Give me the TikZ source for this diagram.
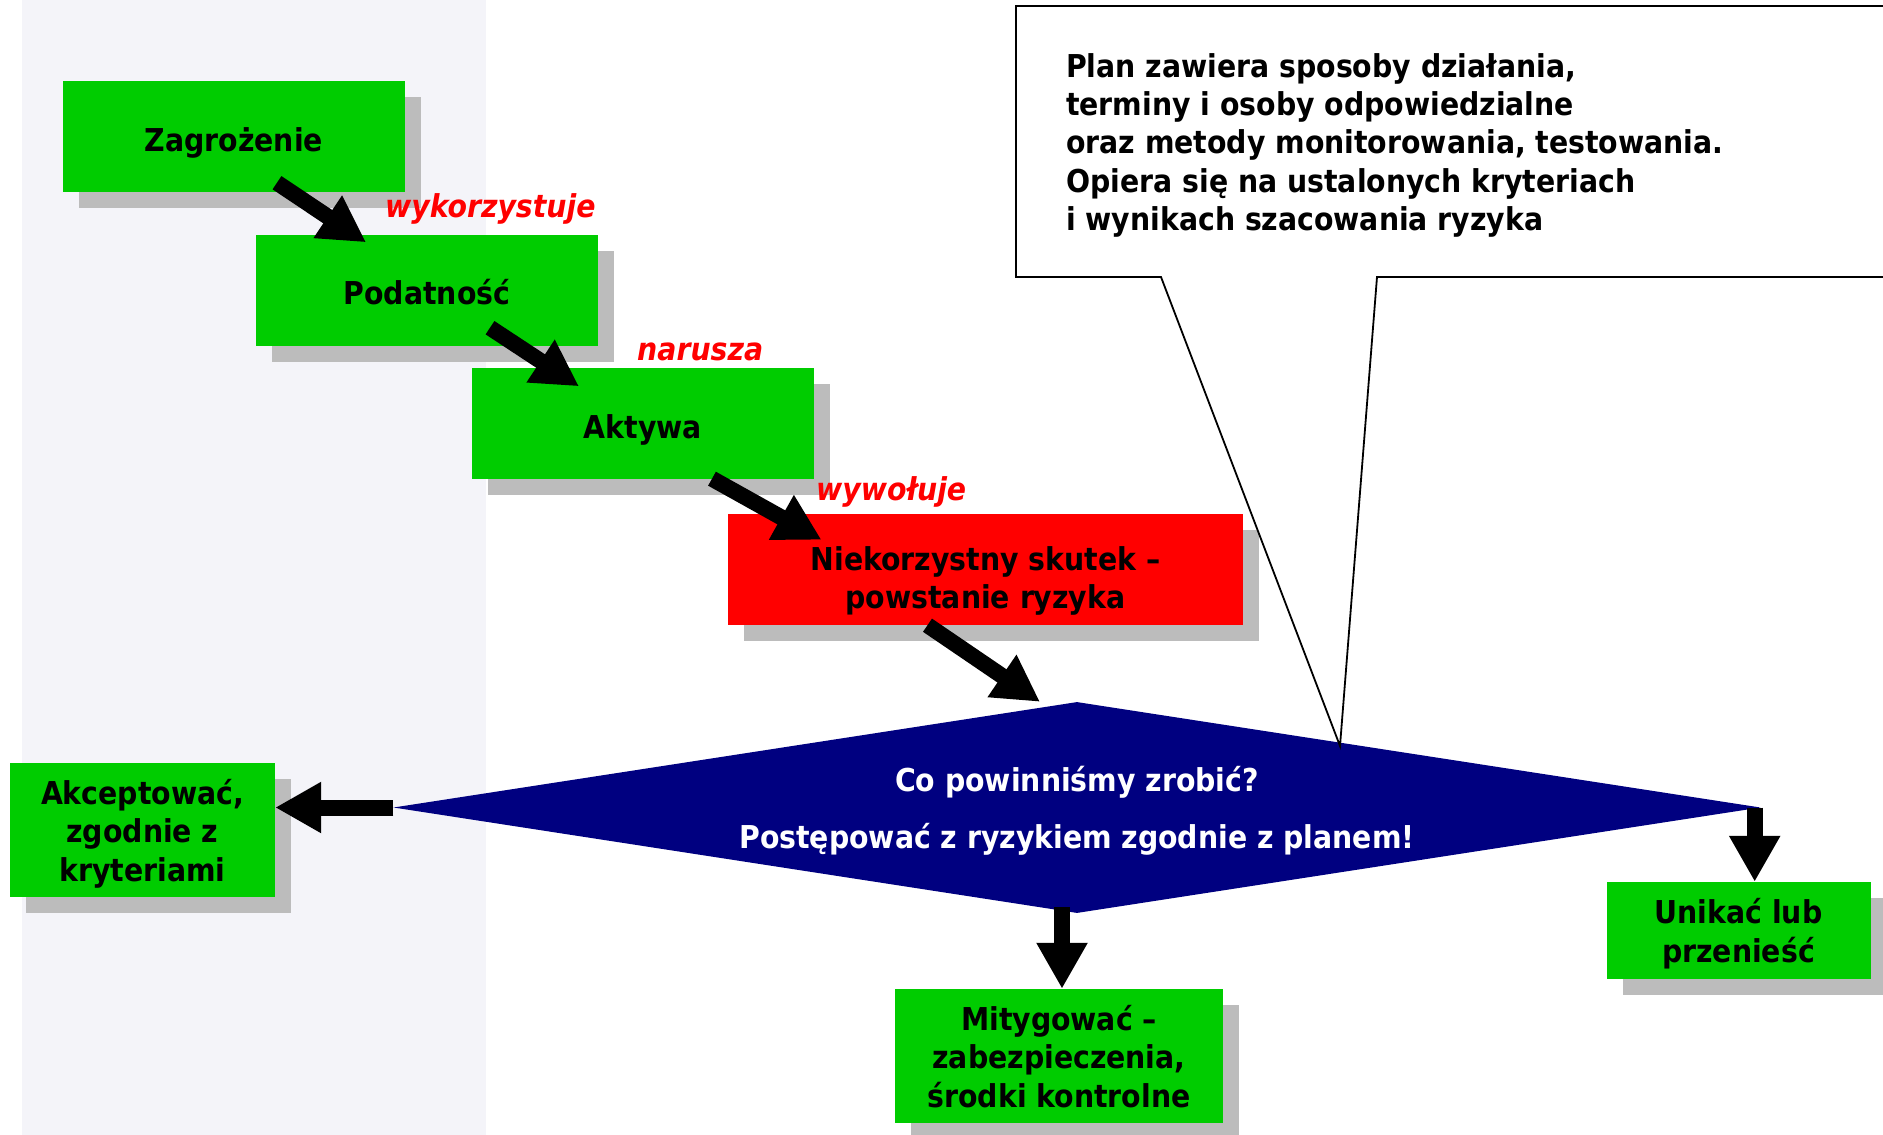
\documentclass[tikz,border=0pt]{standalone}
\usepackage{fontspec}
\setmainfont{DejaVu Sans Condensed}[
    BoldFont={DejaVu Sans Condensed Bold},
    BoldItalicFont={DejaVu Sans Condensed Bold Oblique}]
\usetikzlibrary{shapes.geometric,shadows,arrows.meta,positioning}
\definecolor{boxgreen}{RGB}{0,204,0}
\definecolor{boxred}{RGB}{255,0,0}
\definecolor{navy}{RGB}{0,0,128}
\definecolor{shade}{RGB}{188,188,188}
\definecolor{paper}{RGB}{244,244,249}
\newcommand{\nodefont}{\fontsize{31.5}{38.4}\selectfont\bfseries}
\tikzset{box/.style={rectangle, fill=boxgreen, inner sep=0pt,
        minimum width=342pt, minimum height=111pt,
        align=center, text depth=0pt, font=\nodefont,
        general shadow={fill=shade, shadow xshift=16pt, shadow yshift=-16pt}},
    lbl/.style={text=boxred, font=\nodefont\itshape, inner sep=0pt, anchor=base west},
    fat/.style={line width=16pt, -{Triangle[length=46pt,width=48pt]}},
    balloon/.style={draw, line width=1.8pt, fill=white},
    }

\begin{document}
\begin{tikzpicture}[x=1pt, y=-1pt]
\fill[white] (0,0) rectangle (1883,1135);
\useasboundingbox (0,0) rectangle (1883,1135);
\fill[paper] (22,0) rectangle (486,1135);
% chain
\node[box, text height=30pt] (zag) at (234,136) {Zagrożenie};
\node[box, text height=28pt] (pod) at (427,290) {Podatność};
\node[box, text height=31pt] (akt) at (643,423) {Aktywa};
\node[box, fill=boxred, minimum width=515pt, text height=78pt] (skutek) at (985.5,569.5)
    {Niekorzystny skutek –\\powstanie ryzyka};
\node[lbl] (wyk) at (385,217) {wykorzystuje};
\node[lbl] (nar) at (637,360) {narusza};
\node[lbl] (wyw) at (816,500) {wywołuje};
% decision
\node[diamond, fill=navy, aspect=6.5, inner sep=0pt, minimum width=1367pt,
    minimum height=211pt, text=white, align=center, text depth=0pt, font=\nodefont]
    (dia) at (1077,807.5) {Co powinniśmy zrobić?\\[19pt]Postępować z ryzykiem zgodnie z planem!};
\node[box, minimum width=265pt, minimum height=134pt] (akc) at (142.5,830)
    {Akceptować,\\zgodnie z\\kryteriami};
\node[box, minimum width=328pt, minimum height=134pt] (mit) at (1059,1056)
    {Mitygować –\\zabezpieczenia,\\środki kontrolne};
\node[box, minimum width=264pt, minimum height=97pt] (uni) at (1738.5,930.5)
    {Unikać lub\\przenieść};
% arrows
\draw[fat] ([xshift=43pt,yshift=9pt]zag.south) -- ([xshift=-61pt,yshift=-8pt]pod.north);
\draw[fat] ([xshift=63pt,yshift=18pt]pod.south) -- ([xshift=-64pt,yshift=-19pt]akt.north);
\draw[fat] ([xshift=69pt]akt.south) -- ([xshift=-164pt,yshift=-26pt]skutek.north);
\draw[fat] ([xshift=-58pt]skutek.south) -- ([xshift=-37pt]dia.north);
\draw[fat] (dia.west) -- (dia.west -| akc.east);
\draw[fat] ([xshift=3pt,yshift=6pt]mit.north |- dia.south) -- ([xshift=3pt]mit.north);
\draw[fat] ([xshift=-6pt]dia.east) -- ([xshift=-6pt]dia.east |- uni.north);
% plan callout
\coordinate (tip) at (1340,746);
\draw[balloon] (1890,6) -- (1016,6) -- (1016,277) -- (1161,277) -- (tip)
    -- (1377,277) -- (1890,277);
\node[anchor=north west, align=left, font=\nodefont, inner sep=0pt] (plan) at (1066,53)
    {Plan zawiera sposoby działania,\\terminy i osoby odpowiedzialne\\oraz metody monitorowania, testowania.\\Opiera się na ustalonych kryteriach\\i wynikach szacowania ryzyka};
\end{tikzpicture}
\end{document}
